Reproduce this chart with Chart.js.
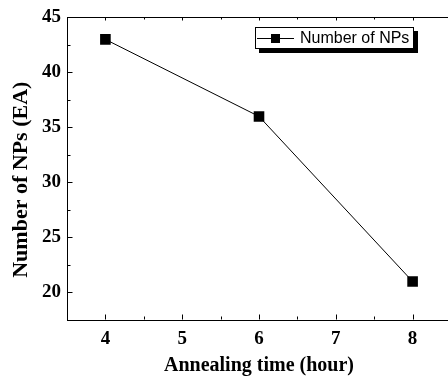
<!DOCTYPE html>
<html>
<head>
<meta charset="utf-8">
<script src="https://cdn.jsdelivr.net/npm/chart.js@4/dist/chart.umd.min.js"></script>
<style>
  html, body { margin: 0; padding: 0; background: #fff; overflow: hidden; }
  #wrap { width: 460px; height: 379px; }
</style>
</head>
<body>
<div id="wrap"><canvas id="c" width="460" height="379"></canvas></div>
<script>
// ---- data ----
const seriesLabel = 'Number of NPs';
const annealHours = [4, 6, 8];
const npCounts = [43, 36, 21];
const xTickValues = [4, 5, 6, 7, 8];
const xMinorValues = [4.5, 5.5, 6.5, 7.5];
const yTickValues = [20, 25, 30, 35, 40, 45];
const yMinorValues = [22.5, 27.5, 32.5, 37.5, 42.5];
const xTitle = 'Annealing time (hour)';
const yTitle = 'Number of NPs (EA)';

const tickFont = { family: '"Liberation Serif", "Times New Roman", serif', size: 19, weight: 'bold' };

const frameAndLegend = {
  id: 'frameAndLegend',
  afterDraw(chart) {
    const ctx = chart.ctx, a = chart.chartArea;
    const xs = chart.scales.x, ys = chart.scales.y;
    ctx.save();
    ctx.strokeStyle = '#000';
    ctx.lineWidth = 1;
    ctx.beginPath();
    // top frame line
    const ty = Math.round(a.top) + 0.5;
    ctx.moveTo(a.left, ty); ctx.lineTo(a.right, ty);
    const by = Math.round(a.bottom) - 0.5;
    const lx = Math.round(a.left) + 0.5;
    xTickValues.forEach(v => {
      const p = Math.round(xs.getPixelForValue(v)) + 0.5;
      ctx.moveTo(p, by); ctx.lineTo(p, by - 5);
      ctx.moveTo(p, ty); ctx.lineTo(p, ty + 3);
    });
    xMinorValues.forEach(v => {
      const p = Math.round(xs.getPixelForValue(v)) + 0.5;
      ctx.moveTo(p, by); ctx.lineTo(p, by - 3);
      ctx.moveTo(p, ty); ctx.lineTo(p, ty + 2);
    });
    yTickValues.forEach(v => {
      const p = Math.round(ys.getPixelForValue(v)) + 0.5;
      ctx.moveTo(lx, p); ctx.lineTo(lx + 5, p);
    });
    yMinorValues.forEach(v => {
      const p = Math.round(ys.getPixelForValue(v)) + 0.5;
      ctx.moveTo(lx, p); ctx.lineTo(lx + 3, p);
    });
    ctx.stroke();

    // legend box with shadow
    const bx = 255, byy = 27, bw = 159, bh = 22;
    ctx.fillStyle = '#000';
    ctx.fillRect(bx + 4, byy + 4, bw, bh);
    ctx.fillStyle = '#fff';
    ctx.fillRect(bx, byy, bw, bh);
    ctx.strokeRect(bx + 0.5, byy + 0.5, bw - 1, bh - 1);
    const my = byy + bh / 2;
    ctx.beginPath();
    ctx.moveTo(bx + 2, Math.round(my) + 0.5);
    ctx.lineTo(bx + 39, Math.round(my) + 0.5);
    ctx.stroke();
    ctx.fillStyle = '#000';
    ctx.fillRect(bx + 16, Math.round(my) - 4, 9, 9);
    ctx.font = '16px "Liberation Sans", Arial, sans-serif';
    ctx.textBaseline = 'middle';
    ctx.textAlign = 'left';
    ctx.fillText(chart.data.datasets[0].label, bx + 45, my + 1);
    ctx.restore();
  }
};

new Chart(document.getElementById('c'), {
  type: 'line',
  data: {
    datasets: [{
      label: seriesLabel,
      data: annealHours.map((h, i) => ({ x: h, y: npCounts[i] })),
      borderColor: '#000',
      borderWidth: 1,
      backgroundColor: '#000',
      pointStyle: 'rect',
      pointRadius: 7.5,
      pointBorderWidth: 0,
      pointBackgroundColor: '#000',
      tension: 0
    }]
  },
  options: {
    responsive: false,
    animation: false,
    devicePixelRatio: 1,
    layout: { padding: { top: 16, right: 9, left: 0, bottom: 0 } },
    plugins: { legend: { display: false }, tooltip: { enabled: false } },
    scales: {
      x: {
        type: 'linear',
        min: 3.5, max: 8.5,
        afterBuildTicks: s => { s.ticks = xTickValues.map(v => ({ value: v })); },
        afterFit: s => { s.height = 59; },
        grid: { display: false, drawTicks: false },
        border: { display: true, color: '#000', width: 1 },
        ticks: { color: '#000', font: tickFont, padding: 8, maxRotation: 0, autoSkip: false },
        title: {
          display: true, text: xTitle, color: '#000',
          font: { family: '"Liberation Serif", "Times New Roman", serif', size: 20, weight: 'bold' },
          padding: { top: 0, bottom: 1 }
        }
      },
      y: {
        type: 'linear',
        min: 17.5, max: 45,
        afterBuildTicks: s => { s.ticks = yTickValues.map(v => ({ value: v })); },
        afterFit: s => { s.width = 67; },
        grid: { display: false, drawTicks: false },
        border: { display: true, color: '#000', width: 1 },
        ticks: { color: '#000', font: tickFont, padding: 6, autoSkip: false },
        title: {
          display: true, text: yTitle + '    ', color: '#000',
          font: { family: '"Liberation Serif", "Times New Roman", serif', size: 22, weight: 'bold' },
          padding: { top: 8, bottom: 0 }
        }
      }
    }
  },
  plugins: [frameAndLegend]
});
</script>
</body>
</html>
